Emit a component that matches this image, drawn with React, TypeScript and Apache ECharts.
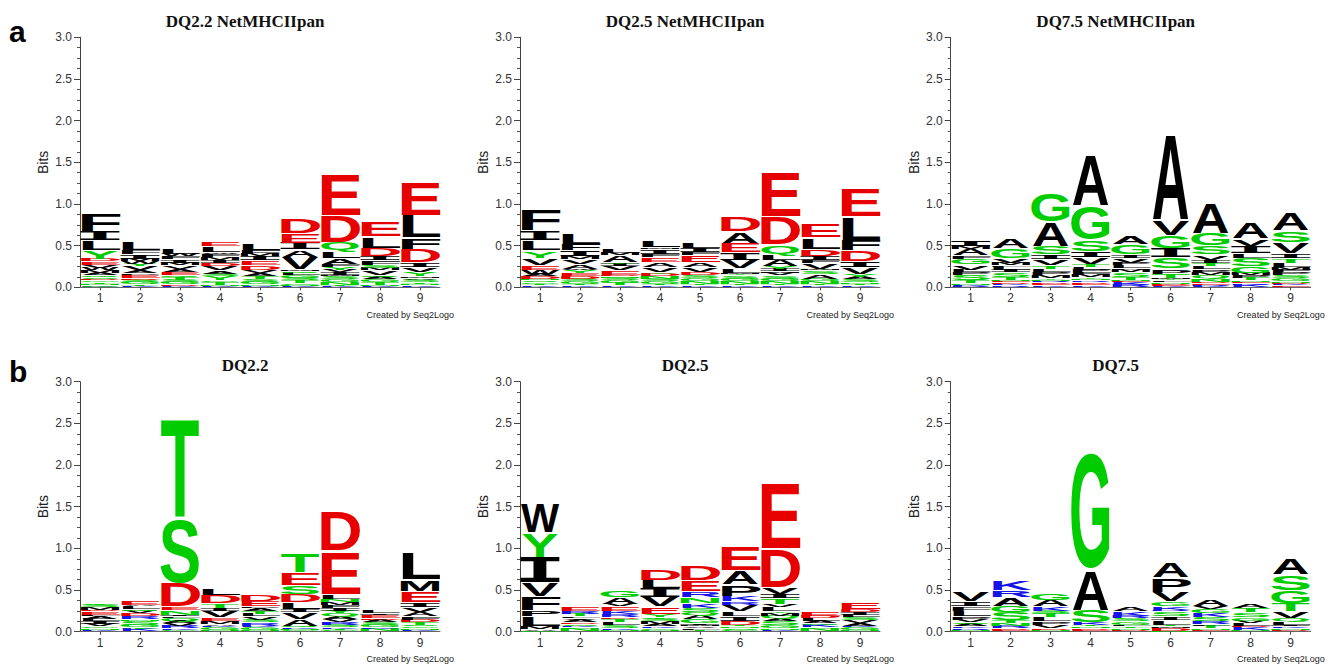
import React, { useEffect, useRef } from "react";
import * as echarts from "echarts";

type Stack = [string, number][];

const POSITIONS = ["1", "2", "3", "4", "5", "6", "7", "8", "9"];

// Each column is listed bottom -> top as [residue, bits]
const DQ22_NETMHCIIPAN: Stack[] = [
  [["K",0.01],["C",0.01],["N",0.02],["T",0.02],["G",0.02],["D",0.02],["S",0.02],["Q",0.02],["A",0.03],["M",0.03],["W",0.03],["V",0.04],["E",0.04],["D",0.03],["Y",0.10],["L",0.12],["I",0.11],["F",0.22]],
  [["K",0.01],["T",0.02],["G",0.03],["S",0.03],["D",0.02],["E",0.04],["P",0.02],["A",0.03],["V",0.05],["Y",0.03],["W",0.03],["M",0.03],["I",0.05],["F",0.06],["L",0.10]],
  [["K",0.01],["D",0.02],["G",0.03],["S",0.03],["T",0.03],["Q",0.02],["E",0.04],["A",0.04],["V",0.04],["M",0.03],["I",0.04],["F",0.04],["W",0.03],["L",0.07]],
  [["K",0.01],["N",0.02],["T",0.03],["G",0.02],["Y",0.05],["S",0.03],["A",0.04],["V",0.05],["D",0.04],["I",0.04],["M",0.03],["F",0.04],["W",0.02],["L",0.07],["E",0.06]],
  [["K",0.01],["N",0.02],["G",0.03],["S",0.04],["T",0.03],["A",0.04],["V",0.04],["D",0.05],["E",0.06],["I",0.05],["M",0.03],["F",0.05],["L",0.08]],
  [["K",0.01],["N",0.02],["C",0.02],["T",0.03],["S",0.03],["G",0.03],["L",0.03],["Q",0.02],["M",0.02],["V",0.15],["A",0.09],["I",0.08],["E",0.12],["D",0.18]],
  [["K",0.01],["T",0.02],["N",0.03],["G",0.03],["S",0.04],["M",0.02],["I",0.03],["V",0.03],["Y",0.03],["F",0.04],["A",0.07],["L",0.09],["Q",0.10],["D",0.32],["E",0.50]],
  [["K",0.01],["N",0.02],["T",0.03],["G",0.03],["A",0.03],["Q",0.02],["V",0.06],["M",0.03],["S",0.04],["F",0.05],["I",0.05],["D",0.10],["L",0.14],["E",0.18]],
  [["K",0.02],["N",0.02],["T",0.02],["S",0.03],["A",0.02],["M",0.02],["Y",0.05],["V",0.06],["I",0.06],["D",0.16],["F",0.14],["L",0.27],["E",0.41]],
];

const DQ25_NETMHCIIPAN: Stack[] = [
  [["K",0.02],["T",0.02],["G",0.02],["S",0.02],["N",0.02],["D",0.03],["A",0.03],["W",0.05],["E",0.06],["V",0.08],["Y",0.09],["L",0.12],["I",0.12],["F",0.26]],
  [["K",0.02],["T",0.02],["G",0.03],["S",0.03],["D",0.03],["E",0.04],["Y",0.03],["W",0.02],["A",0.06],["V",0.06],["M",0.03],["I",0.07],["F",0.08],["L",0.14]],
  [["K",0.02],["T",0.03],["G",0.03],["S",0.03],["N",0.02],["D",0.02],["E",0.05],["V",0.05],["I",0.03],["Y",0.02],["A",0.08],["M",0.03],["L",0.06]],
  [["K",0.02],["T",0.02],["G",0.03],["S",0.03],["N",0.03],["D",0.03],["Y",0.02],["V",0.06],["A",0.06],["E",0.06],["F",0.04],["I",0.06],["M",0.02],["L",0.08]],
  [["K",0.02],["T",0.02],["N",0.03],["G",0.04],["S",0.03],["D",0.04],["V",0.06],["A",0.06],["E",0.08],["F",0.04],["I",0.05],["L",0.07]],
  [["K",0.02],["T",0.02],["N",0.03],["G",0.03],["S",0.04],["Y",0.02],["M",0.01],["L",0.06],["V",0.10],["I",0.09],["E",0.11],["A",0.14],["D",0.18]],
  [["K",0.02],["T",0.02],["N",0.03],["G",0.03],["S",0.04],["V",0.03],["M",0.02],["I",0.03],["Y",0.03],["A",0.08],["L",0.07],["Q",0.11],["D",0.34],["E",0.55]],
  [["K",0.02],["T",0.02],["N",0.03],["G",0.03],["A",0.06],["S",0.04],["M",0.02],["V",0.07],["F",0.03],["I",0.05],["D",0.09],["L",0.14],["E",0.17]],
  [["K",0.02],["T",0.02],["N",0.02],["S",0.03],["A",0.03],["Y",0.04],["V",0.08],["I",0.07],["D",0.13],["F",0.13],["L",0.28],["E",0.34]],
];

const DQ75_NETMHCIIPAN: Stack[] = [
  [["R",0.02],["K",0.01],["N",0.02],["T",0.03],["S",0.07],["P",0.03],["L",0.03],["V",0.06],["G",0.07],["F",0.04],["A",0.08],["M",0.03],["I",0.07]],
  [["R",0.02],["K",0.02],["D",0.02],["E",0.01],["N",0.02],["T",0.03],["S",0.06],["I",0.03],["L",0.03],["F",0.02],["M",0.03],["V",0.06],["G",0.12],["A",0.12]],
  [["K",0.02],["E",0.02],["D",0.02],["R",0.01],["N",0.02],["Y",0.02],["M",0.03],["P",0.04],["L",0.04],["T",0.04],["V",0.07],["I",0.06],["S",0.10],["A",0.30],["G",0.35]],
  [["K",0.02],["E",0.02],["D",0.02],["R",0.02],["N",0.02],["Y",0.02],["M",0.03],["F",0.03],["P",0.03],["L",0.03],["T",0.04],["V",0.08],["I",0.07],["S",0.14],["G",0.42],["A",0.62]],
  [["R",0.03],["K",0.03],["E",0.01],["N",0.02],["T",0.03],["S",0.06],["M",0.03],["F",0.02],["L",0.03],["P",0.03],["V",0.06],["I",0.04],["G",0.12],["A",0.10]],
  [["K",0.02],["E",0.01],["D",0.01],["N",0.02],["L",0.02],["Y",0.02],["M",0.01],["T",0.05],["P",0.06],["S",0.14],["I",0.11],["G",0.16],["V",0.18],["A",1.04]],
  [["K",0.02],["R",0.01],["E",0.02],["D",0.01],["N",0.03],["Y",0.02],["Q",0.03],["M",0.03],["P",0.04],["L",0.04],["T",0.04],["I",0.04],["V",0.06],["S",0.11],["G",0.15],["A",0.37]],
  [["K",0.03],["R",0.02],["E",0.01],["N",0.02],["T",0.03],["P",0.03],["M",0.03],["G",0.08],["S",0.10],["L",0.06],["I",0.08],["V",0.09],["A",0.20]],
  [["E",0.02],["K",0.02],["D",0.01],["N",0.02],["G",0.04],["S",0.04],["P",0.03],["F",0.03],["M",0.03],["L",0.05],["T",0.06],["I",0.06],["V",0.13],["S",0.14],["A",0.21]],
];

const DQ22: Stack[] = [
  [["K",0.02],["N",0.02],["G",0.02],["V",0.03],["I",0.03],["L",0.03],["A",0.03],["F",0.02],["E",0.04],["D",0.02],["M",0.03],["S",0.03],["T",0.02]],
  [["K",0.03],["T",0.02],["G",0.03],["S",0.05],["N",0.02],["R",0.03],["D",0.04],["V",0.03],["Q",0.02],["L",0.03],["A",0.02],["E",0.06]],
  [["G",0.02],["K",0.02],["R",0.03],["V",0.03],["A",0.03],["Q",0.03],["L",0.02],["I",0.02],["N",0.06],["E",0.04],["D",0.29],["S",0.79],["T",1.21]],
  [["N",0.02],["G",0.03],["K",0.02],["A",0.02],["M",0.04],["E",0.04],["V",0.08],["I",0.03],["T",0.06],["D",0.10],["L",0.08]],
  [["N",0.02],["G",0.03],["K",0.02],["R",0.04],["S",0.03],["V",0.04],["L",0.03],["T",0.04],["A",0.03],["P",0.02],["E",0.07],["D",0.08]],
  [["G",0.02],["N",0.02],["K",0.01],["Q",0.02],["A",0.08],["V",0.08],["I",0.04],["L",0.08],["D",0.10],["S",0.11],["E",0.15],["T",0.23]],
  [["G",0.02],["T",0.02],["K",0.01],["S",0.03],["R",0.03],["V",0.04],["A",0.03],["Q",0.04],["Y",0.03],["I",0.03],["F",0.04],["M",0.03],["N",0.04],["L",0.06],["E",0.52],["D",0.49]],
  [["N",0.03],["K",0.02],["G",0.03],["S",0.03],["A",0.03],["D",0.02],["E",0.04],["I",0.02],["L",0.04]],
  [["K",0.02],["N",0.02],["G",0.02],["S",0.02],["T",0.03],["D",0.03],["F",0.04],["A",0.05],["V",0.06],["I",0.06],["E",0.14],["M",0.14],["L",0.32]],
];

const DQ25: Stack[] = [
  [["G",0.01],["A",0.02],["M",0.04],["L",0.12],["P",0.07],["F",0.16],["V",0.17],["I",0.30],["Y",0.30],["W",0.36]],
  [["N",0.03],["G",0.02],["K",0.02],["S",0.02],["D",0.02],["A",0.03],["V",0.02],["L",0.02],["T",0.03],["R",0.03],["E",0.05]],
  [["N",0.02],["K",0.02],["S",0.04],["L",0.03],["T",0.04],["D",0.02],["R",0.04],["K",0.04],["E",0.05],["V",0.03],["A",0.08],["G",0.08]],
  [["N",0.02],["G",0.02],["K",0.02],["A",0.03],["M",0.03],["S",0.03],["T",0.02],["Y",0.04],["E",0.09],["V",0.11],["I",0.11],["L",0.10],["D",0.14]],
  [["T",0.02],["L",0.02],["V",0.02],["M",0.02],["I",0.02],["G",0.05],["A",0.05],["Q",0.03],["S",0.05],["K",0.06],["N",0.07],["R",0.07],["E",0.14],["D",0.18]],
  [["G",0.02],["S",0.02],["N",0.02],["T",0.02],["D",0.05],["I",0.05],["L",0.06],["V",0.08],["R",0.04],["K",0.07],["P",0.14],["A",0.17],["E",0.29]],
  [["K",0.02],["N",0.02],["G",0.03],["S",0.06],["A",0.03],["Q",0.03],["M",0.03],["Y",0.02],["L",0.05],["V",0.04],["T",0.07],["I",0.05],["V",0.08],["D",0.47],["E",0.80]],
  [["N",0.03],["G",0.02],["K",0.03],["S",0.02],["A",0.03],["L",0.03],["D",0.03],["E",0.05]],
  [["N",0.02],["G",0.03],["K",0.02],["A",0.03],["V",0.04],["S",0.03],["L",0.03],["I",0.03],["D",0.04],["E",0.09]],
];

const DQ75: Stack[] = [
  [["N",0.02],["R",0.02],["K",0.02],["A",0.03],["S",0.02],["V",0.03],["P",0.04],["L",0.07],["F",0.06],["I",0.06],["V",0.11]],
  [["E",0.02],["D",0.02],["R",0.03],["N",0.03],["T",0.03],["S",0.10],["G",0.08],["A",0.10],["R",0.09],["K",0.11]],
  [["N",0.02],["D",0.02],["V",0.04],["P",0.04],["L",0.05],["T",0.05],["S",0.03],["K",0.05],["A",0.08],["G",0.08]],
  [["E",0.02],["D",0.02],["N",0.02],["T",0.02],["K",0.03],["S",0.15],["A",0.49],["G",1.44]],
  [["D",0.02],["N",0.02],["T",0.02],["L",0.02],["G",0.04],["S",0.04],["R",0.03],["K",0.06],["A",0.05]],
  [["N",0.01],["D",0.03],["M",0.02],["T",0.02],["L",0.06],["I",0.04],["S",0.06],["R",0.02],["K",0.04],["G",0.06],["V",0.12],["P",0.17],["A",0.18]],
  [["E",0.02],["N",0.02],["T",0.03],["L",0.02],["R",0.03],["S",0.05],["K",0.05],["G",0.05],["V",0.03],["A",0.08]],
  [["N",0.02],["K",0.03],["D",0.02],["L",0.03],["V",0.03],["G",0.04],["S",0.06],["T",0.05],["A",0.05]],
  [["D",0.02],["N",0.02],["K",0.02],["I",0.02],["L",0.04],["Q",0.04],["V",0.08],["T",0.10],["G",0.16],["S",0.18],["A",0.20]],
];

const PANEL_TITLES = ["DQ2.2 NetMHCIIpan", "DQ2.5 NetMHCIIpan", "DQ7.5 NetMHCIIpan", "DQ2.2", "DQ2.5", "DQ7.5"];
const PANEL_DATA = [DQ22_NETMHCIIPAN, DQ25_NETMHCIIPAN, DQ75_NETMHCIIPAN, DQ22, DQ25, DQ75];
const ROW_LABELS = ["a", "b"];
const CREDIT = "Created by Seq2Logo";
const Y_NAME = "Bits";

// residue colour classes
const BLACK = "#000000", RED = "#e60000", GREEN = "#00cc00", BLUE = "#1414e6";
const COLOR: Record<string, string> = {
  A: BLACK, V: BLACK, L: BLACK, I: BLACK, P: BLACK, W: BLACK, F: BLACK, M: BLACK,
  G: GREEN, S: GREEN, T: GREEN, Y: GREEN, C: GREEN, Q: GREEN, N: GREEN,
  K: BLUE, R: BLUE, H: BLUE,
  D: RED, E: RED,
};

// glyph ink widths (em) for bold sans glyphs
const INK: Record<string, number> = {
  A: 0.72, C: 0.62, D: 0.6, E: 0.55, F: 0.5, G: 0.67, H: 0.57, K: 0.64, L: 0.52, M: 0.69,
  N: 0.58, P: 0.56, Q: 0.7, R: 0.62, S: 0.59, T: 0.59, V: 0.68, W: 0.93, Y: 0.68, I: 0.42,
};
const ROUND = new Set(["C", "G", "S", "Q"]);

// layout
const GRID_LEFT = [80, 520, 950.7];
const GRID_TOP = [37.3, 381.7];
const GRID_W = 360;
const GRID_H = 250;
const TITLE_X = [245, 685, 1115.7];
const TITLE_Y = [21, 365];
const CREDIT_Y = [315, 659];
const ROW_LABEL_Y = [42, 381.7];

const F = 100;

function buildRows(stacks: Stack[]) {
  const rows: number[][] = [];
  const letters: string[] = [];
  stacks.forEach((stack, ci) => {
    let base = 0;
    stack.forEach(([ch, h]) => {
      rows.push([ci, base, base + h]);
      letters.push(ch);
      base += h;
    });
  });
  return { rows, letters };
}

function makeRenderItem(letters: string[]) {
  return (params: any, api: any) => {
    const ci = api.value(0);
    const lo = api.value(1);
    const hi = api.value(2);
    const ch = letters[params.dataIndex];
    const p0 = api.coord([ci, lo]);
    const p1 = api.coord([ci, hi]);
    const band = api.size([1, 0])[0];
    const w = band * 0.94;
    const raw = p0[1] - p1[1];
    const h = Math.max(raw - Math.min(0.6, raw * 0.25), 1.2);
    const cy = (p0[1] + p1[1]) / 2;
    const mono = ch === "I";
    const cap = mono ? 0.729 : ROUND.has(ch) ? 0.74 : 0.716;
    const d = mono ? 0.0185 : 0.0115;
    const sx = w / ((INK[ch] || 0.6) * F);
    const sy = h / (cap * F);
    return {
      type: "text",
      x: p0[0],
      y: cy + d * F * sy,
      scaleX: sx,
      scaleY: sy,
      silent: true,
      style: {
        text: ch,
        fontSize: F,
        fontFamily: mono ? "DejaVu Sans Mono" : "Liberation Sans",
        fontWeight: "bold",
        fill: COLOR[ch] || BLACK,
        align: "center",
        verticalAlign: "middle",
        textAlign: "center",
        textVerticalAlign: "middle",
      },
    };
  };
}

export default function App() {
  const ref = useRef<HTMLDivElement>(null);
  useEffect(() => {
    document.body.style.margin = "0";
    if (!ref.current) return;
    const chart = echarts.init(ref.current, null, { renderer: "svg" });
    const grids: any[] = [];
    const xAxes: any[] = [];
    const yAxes: any[] = [];
    const series: any[] = [];
    const graphic: any[] = [];
    PANEL_DATA.forEach((stacks, i) => {
      const r = Math.floor(i / 3);
      const c = i % 3;
      grids.push({ left: GRID_LEFT[c], top: GRID_TOP[r], width: GRID_W, height: GRID_H });
      xAxes.push({
        type: "category",
        gridIndex: i,
        data: POSITIONS,
        boundaryGap: true,
        axisLine: { show: true, lineStyle: { color: "#666", width: 1 } },
        axisTick: { show: true, alignWithLabel: true, length: 3, lineStyle: { color: "#444" } },
        axisLabel: { fontSize: 12, color: "#333", margin: 5, fontFamily: "Liberation Sans" },
        splitLine: { show: false },
      });
      yAxes.push({
        type: "value",
        gridIndex: i,
        min: 0,
        max: 3,
        interval: 0.5,
        name: Y_NAME,
        nameLocation: "middle",
        nameGap: 30,
        nameTextStyle: { fontSize: 14, color: "#222", fontFamily: "Liberation Sans" },
        axisLine: { show: true, lineStyle: { color: "#444", width: 1 } },
        axisTick: { show: true, length: 6, lineStyle: { color: "#444" } },
        minorTick: { show: true, splitNumber: 4, length: 3, lineStyle: { color: "#555" } },
        axisLabel: {
          fontSize: 12,
          color: "#333",
          margin: 8,
          fontFamily: "Liberation Sans",
          formatter: (v: number) => v.toFixed(1),
        },
        splitLine: { show: false },
        minorSplitLine: { show: false },
      });
      const { rows, letters } = buildRows(stacks);
      series.push({
        type: "custom",
        xAxisIndex: i,
        yAxisIndex: i,
        data: rows,
        encode: { x: 0, y: [1, 2] },
        renderItem: makeRenderItem(letters),
        silent: true,
        clip: false,
      });
      graphic.push({
        type: "text",
        x: TITLE_X[c],
        y: TITLE_Y[r],
        silent: true,
        style: {
          text: PANEL_TITLES[i],
          fontFamily: "Liberation Serif",
          fontWeight: "bold",
          fontSize: 17,
          fill: "#111",
          align: "center",
          verticalAlign: "middle",
        },
      });
      graphic.push({
        type: "text",
        x: GRID_LEFT[c] + GRID_W + 14,
        y: CREDIT_Y[r],
        silent: true,
        style: {
          text: CREDIT,
          fontFamily: "Liberation Sans",
          fontSize: 9,
          fill: "#222",
          align: "right",
          verticalAlign: "middle",
        },
      });
    });
    ROW_LABELS.forEach((lab, r) => {
      graphic.push({
        type: "text",
        x: 9,
        y: ROW_LABEL_Y[r] - 10.4,
        silent: true,
        style: {
          text: lab,
          fontFamily: "Liberation Sans",
          fontWeight: "bold",
          fontSize: 30,
          fill: "#000",
          align: "left",
          verticalAlign: "middle",
        },
      });
    });
    chart.setOption({
      animation: false,
      backgroundColor: "#ffffff",
      grid: grids,
      xAxis: xAxes,
      yAxis: yAxes,
      series,
      graphic,
    });
    return () => chart.dispose();
  }, []);
  return <div ref={ref} style={{ width: 1336, height: 665 }} />;
}
